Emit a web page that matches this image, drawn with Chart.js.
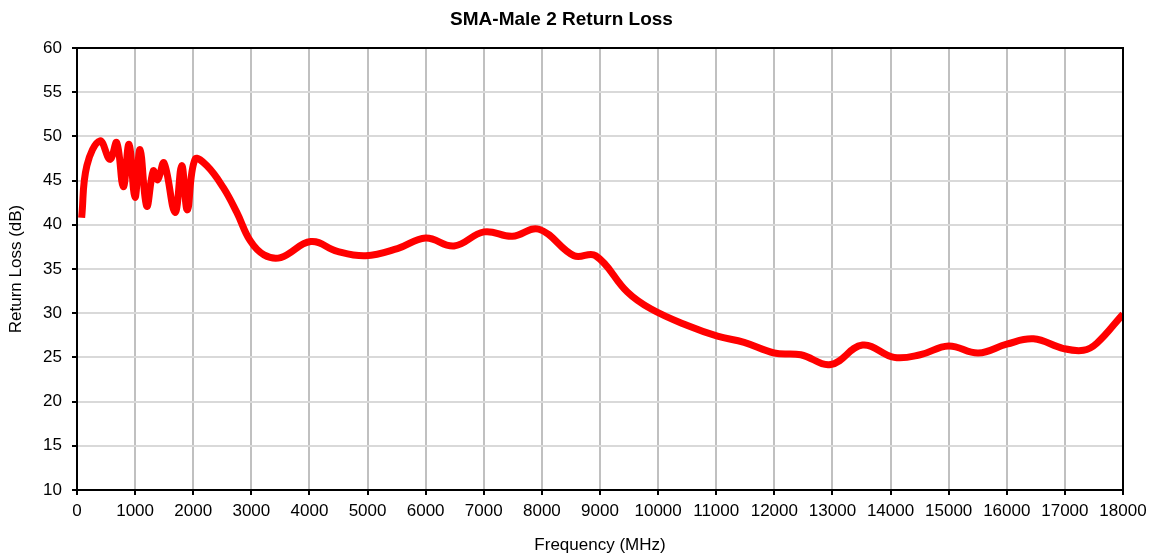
<!DOCTYPE html>
<html>
<head>
<meta charset="utf-8">
<title>SMA-Male 2 Return Loss</title>
<script src="https://cdn.jsdelivr.net/npm/chart.js@4/dist/chart.umd.min.js"></script>
<style>
  html, body { margin: 0; padding: 0; background: #fff; }
  #wrap { width: 1154px; height: 558px; }
</style>
</head>
<body>
<div id="wrap"><canvas id="rlChart" width="1154" height="558"></canvas></div>
<script>
// Frequency points (MHz)
const freqMHz = [
    80, 170, 396, 568, 683, 797, 895, 998, 1084, 1200,
    1313, 1389, 1497, 1687, 1802, 1899, 2031, 2232, 2518, 2750,
    2980, 3218, 3505, 4022, 4481, 4968, 5514, 6000, 6488, 7004,
    7492, 7950, 8553, 8926, 9471, 9873, 10505, 11021, 11480, 11997,
    12456, 12972, 13518, 14062, 14510, 14998, 15510, 16000, 16460, 16976,
    17320, 17550, 18000
];

// Return loss (dB) at each frequency point
const returnLossDb = [
    40.8, 46.7, 49.5, 47.4, 49.3, 44.3, 49.1, 43.1, 48.5, 42.1,
    46.1, 45.1, 47.0, 41.4, 46.7, 41.7, 47.4, 46.7, 44.2, 41.4,
    38.2, 36.6, 36.3, 38.1, 37.0, 36.5, 37.3, 38.5, 37.6, 39.2,
    38.7, 39.5, 36.5, 36.5, 32.4, 30.5, 28.6, 27.4, 26.7, 25.5,
    25.3, 24.2, 26.4, 25.0, 25.3, 26.3, 25.5, 26.5, 27.1, 26.0,
    25.8, 26.6, 29.9
];

// Axis ranges / ticks
const xTicks = { min: 0, max: 18000, step: 1000 };
const yTicks = { min: 10, max: 60, step: 5 };

const FONT = "'Liberation Sans', Arial, sans-serif";

// draws the top and right edges of the plot box
const frameBox = {
    id: 'frameBox',
    afterDraw(chart) {
        const { ctx, chartArea: a } = chart;
        ctx.save();
        ctx.strokeStyle = '#000';
        ctx.lineWidth = 2;
        ctx.beginPath();
        ctx.moveTo(a.left, a.top);
        ctx.lineTo(a.right, a.top);
        ctx.lineTo(a.right, a.bottom);
        ctx.stroke();
        ctx.restore();
    }
};

function displayChart() {
    const ctx = document.getElementById('rlChart').getContext('2d');
    const points = freqMHz.map((f, i) => ({ x: f, y: returnLossDb[i] }));

    new Chart(ctx, {
        type: 'line',
        data: {
            datasets: [{
                label: 'Return Loss',
                data: points,
                borderColor: '#ff0000',
                backgroundColor: '#ff0000',
                borderWidth: 7,
                pointRadius: 0,
                tension: 0.4,
                fill: false
            }]
        },
        options: {
            responsive: false,
            animation: false,
            layout: { padding: { left: 0, right: 31, top: 0, bottom: 0 } },
            plugins: {
                legend: { display: false },
                tooltip: { enabled: false },
                title: {
                    display: true,
                    text: 'SMA-Male 2 Return Loss',
                    color: '#000',
                    font: { family: FONT, size: 19, weight: 'bold' },
                    padding: { top: 8.6, bottom: 16.6 }
                }
            },
            scales: {
                x: {
                    type: 'linear',
                    min: xTicks.min,
                    max: xTicks.max,
                    afterFit(scale) { scale.height = 68; },
                    ticks: {
                        stepSize: xTicks.step,
                        color: '#000',
                        padding: 6,
                        maxRotation: 0,
                        autoSkip: false,
                        font: { family: FONT, size: 17 },
                        callback: (v) => String(v)
                    },
                    grid: {
                        color: '#c0c0c0',
                        lineWidth: 2,
                        tickLength: 5,
                        tickColor: '#000'
                    },
                    border: { color: '#000', width: 2 },
                    title: {
                        display: true,
                        text: 'Frequency (MHz)',
                        color: '#000',
                        font: { family: FONT, size: 17 },
                        padding: { top: 0, bottom: 2 }
                    }
                },
                y: {
                    min: yTicks.min,
                    max: yTicks.max,
                    afterFit(scale) { scale.width = 77; },
                    ticks: {
                        stepSize: yTicks.step,
                        color: '#000',
                        padding: 10,
                        font: { family: FONT, size: 17 },
                        callback: (v) => String(v)
                    },
                    grid: {
                        color: '#d9d9d9',
                        lineWidth: 2,
                        tickLength: 5,
                        tickColor: '#000'
                    },
                    border: { color: '#000', width: 2 },
                    title: {
                        display: true,
                        text: 'Return Loss (dB)',
                        color: '#000',
                        font: { family: FONT, size: 17 },
                        padding: { top: 6.5, bottom: 0 }
                    }
                }
            }
        },
        plugins: [frameBox]
    });
}

window.onload = () => {
    displayChart();
};
</script>
</body>
</html>
